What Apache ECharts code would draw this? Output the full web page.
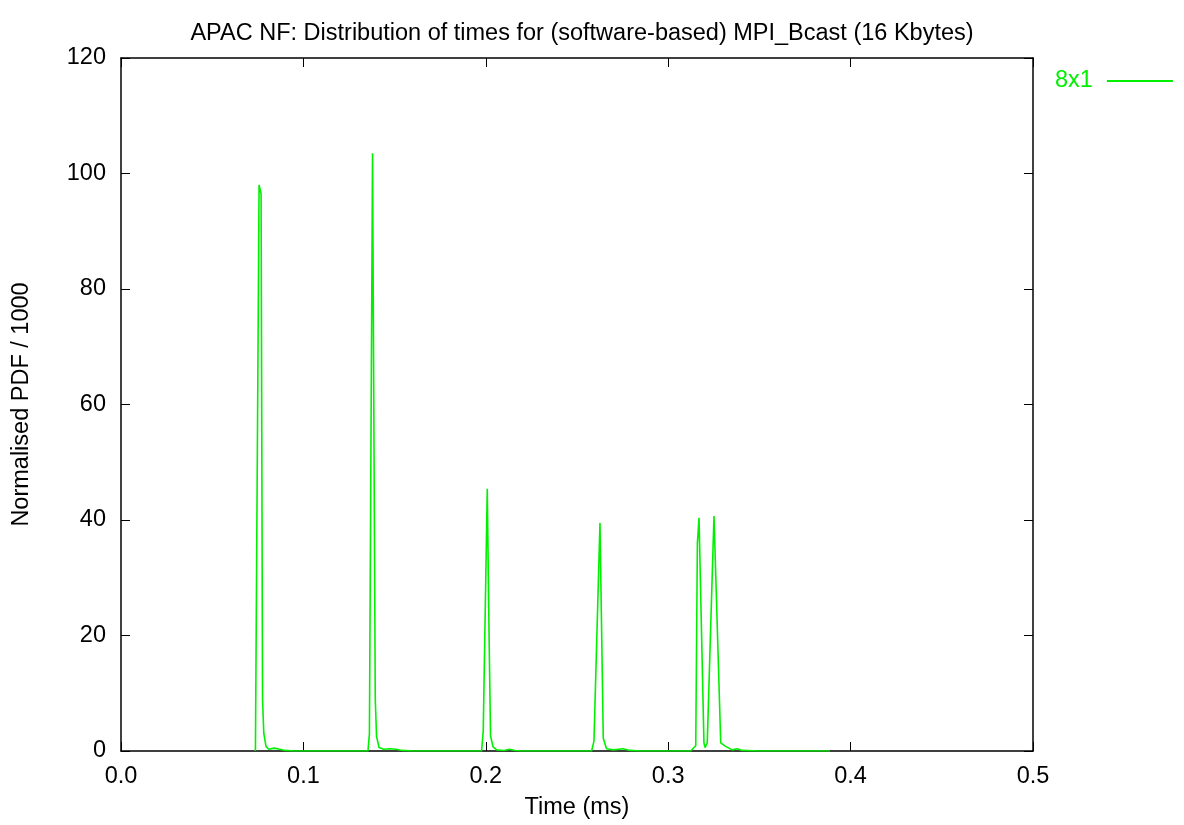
<!DOCTYPE html>
<html>
<head>
<meta charset="utf-8">
<script src="https://cdn.jsdelivr.net/npm/echarts@6/dist/echarts.min.js"></script>
<style>
  html, body { margin: 0; padding: 0; background: #fff; }
  #chart { width: 1184px; height: 825px; }
</style>
</head>
<body>
<div id="chart"></div>
<script>
// Sample times (ms) and normalised PDF values (/1000) for the 8x1 run
const times = [
  0.0737, 0.0757, 0.0768, 0.0776, 0.0783, 0.0795, 0.0810, 0.0840, 0.0870, 0.0900, 0.0950,
  0.1354, 0.1362, 0.1379, 0.1394, 0.1401, 0.1415, 0.1440, 0.1470, 0.1510, 0.1540, 0.1600,
  0.1977, 0.1986, 0.2008, 0.2018, 0.2026, 0.2040, 0.2060, 0.2100, 0.2130, 0.2160, 0.2200,
  0.2580, 0.2593, 0.2626, 0.2644, 0.2662, 0.2700, 0.2752, 0.2790, 0.2850,
  0.3123, 0.3151, 0.3160, 0.3169, 0.3196, 0.3202, 0.3214, 0.3251, 0.3288, 0.3315, 0.3351,
  0.3379, 0.3405, 0.3500, 0.3887
];
const pdf = [
  0, 98, 96.5, 9, 3, 0.8, 0.3, 0.5, 0.3, 0.1, 0,
  0, 3, 103.5, 9, 2.5, 0.6, 0.3, 0.4, 0.3, 0.1, 0,
  0, 3.5, 45.4, 20, 2.6, 0.7, 0.2, 0.1, 0.3, 0.1, 0,
  0, 1.7, 39.5, 2.2, 0.4, 0.2, 0.4, 0.1, 0,
  0, 0.9, 36, 40.4, 1.4, 0.6, 1.4, 40.7, 1.4, 0.8, 0.2,
  0.4, 0.1, 0, 0
];
const seriesName = '8x1';
const xTicks = { min: 0, max: 0.5, step: 0.1 };
const yTicks = { min: 0, max: 120, step: 20 };

const points = times.map((t, i) => [t, pdf[i]]);
const green = '#00f000';
const font = 'Liberation Sans, Arial, Helvetica, sans-serif';
const fs = 23.5;

// Shared styling for the four sides of the frame: inward ticks, black border
const frameAxis = {
  axisLine: { show: true, onZero: false, lineStyle: { color: '#000', width: 1.5 } },
  axisTick: { show: true, inside: true, length: 9, lineStyle: { color: '#000', width: 1 } },
  splitLine: { show: false }
};

const chart = echarts.init(document.getElementById('chart'), null, { renderer: 'canvas' });
chart.setOption({
  animation: false,
  backgroundColor: '#fff',
  title: {
    text: 'APAC NF: Distribution of times for (software-based) MPI_Bcast (16 Kbytes)',
    left: 577, top: 17, textAlign: 'center',
    textStyle: { fontFamily: font, fontSize: fs, fontWeight: 'normal', color: '#000' }
  },
  legend: {
    data: [seriesName],
    left: 1050, top: 64,
    align: 'right',
    itemWidth: 66, itemHeight: 2, itemGap: 0,
    icon: 'rect',
    textStyle: { fontFamily: font, fontSize: fs, color: green, padding: [0, 9, 0, 0] }
  },
  grid: { left: 121, right: 151, top: 58, bottom: 72 },
  xAxis: [
    Object.assign({}, frameAxis, {
      type: 'value', position: 'bottom',
      min: xTicks.min, max: xTicks.max, interval: xTicks.step,
      name: 'Time (ms)', nameLocation: 'middle', nameGap: 45,
      nameTextStyle: { fontFamily: font, fontSize: fs, color: '#000' },
      axisLabel: { fontFamily: font, fontSize: fs, color: '#000', margin: 14,
                   formatter: v => v.toFixed(1) }
    }),
    Object.assign({}, frameAxis, {
      type: 'value', position: 'top',
      min: xTicks.min, max: xTicks.max, interval: xTicks.step,
      axisLabel: { show: false }
    })
  ],
  yAxis: [
    Object.assign({}, frameAxis, {
      type: 'value', position: 'left',
      min: yTicks.min, max: yTicks.max, interval: yTicks.step,
      name: 'Normalised PDF / 1000', nameLocation: 'middle', nameGap: 87,
      nameTextStyle: { fontFamily: font, fontSize: fs, color: '#000' },
      axisLabel: { fontFamily: font, fontSize: fs, color: '#000', margin: 15 }
    }),
    Object.assign({}, frameAxis, {
      type: 'value', position: 'right',
      min: yTicks.min, max: yTicks.max, interval: yTicks.step,
      axisLabel: { show: false }
    })
  ],
  series: [{
    name: seriesName,
    type: 'line',
    data: points,
    showSymbol: false,
    symbol: 'none',
    z: 5,
    lineStyle: { color: green, width: 1.6 },
    itemStyle: { color: green }
  }]
});
</script>
</body>
</html>
